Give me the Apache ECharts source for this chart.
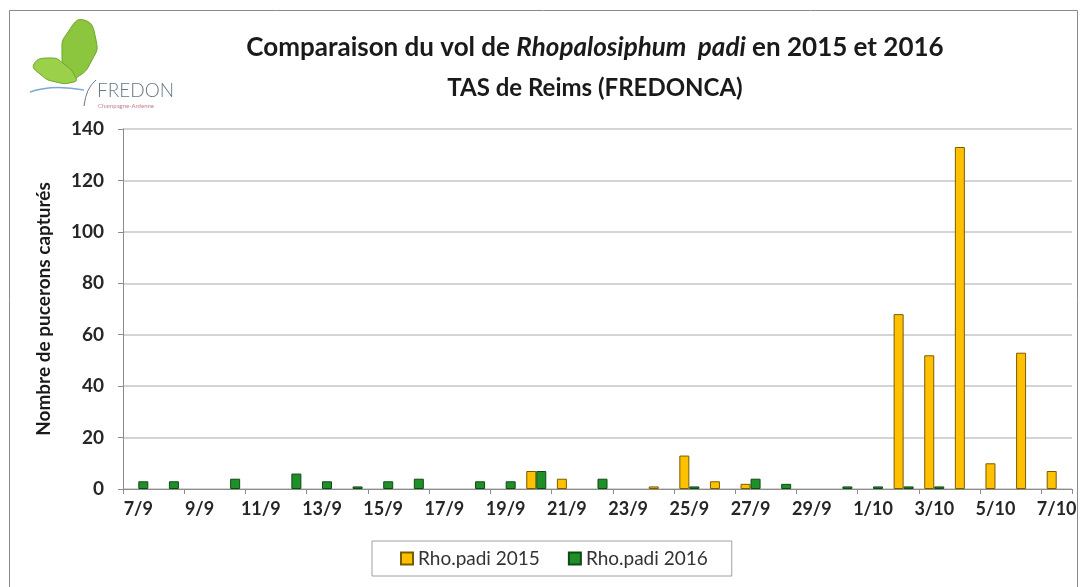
<!DOCTYPE html>
<html>
<head>
<meta charset="utf-8">
<script src="https://cdn.jsdelivr.net/npm/echarts@6/dist/echarts.min.js"></script>
<style>html,body{margin:0;padding:0;background:#fff}#c{width:1086px;height:587px}</style>
</head>
<body>
<div id="c"></div>
<script>
const categories = ['7/9','8/9','9/9','10/9','11/9','12/9','13/9','14/9','15/9','16/9','17/9','18/9','19/9','20/9','21/9','22/9','23/9','24/9','25/9','26/9','27/9','28/9','29/9','30/9','1/10','2/10','3/10','4/10','5/10','6/10','7/10'];
const rho2015 = [0,0,0,0,0,0,0,0,0,0,0,0,0,7,4,0,0,1,13,3,2,0,0,0,0,68,52,133,10,53,7];
const rho2016 = [3,3,0,4,0,6,3,1,3,4,0,3,3,7,0,4,0,0,1,0,4,2,0,1,1,1,1,0,0,0,0];
const yTicks = {min:0, max:140, interval:20};
const seriesNames = ['Rho.padi 2015','Rho.padi 2016'];

// zero counts are not drawn (as in the spreadsheet chart)
const hideZero = arr => arr.map(v => v === 0 ? '-' : v);

const chart = echarts.init(document.getElementById('c'), null, {renderer:'canvas'});
const FONT = 'Lato, "Open Sans", sans-serif';
chart.setOption({
  backgroundColor:'#fff',
  animation:false,
  title:{
    left:590, top:22, textAlign:'center',
    text:'{b|Comparaison du vol de }{i|Rhopalosiphum  padi}{b| en 2015 et 2016}\n{s|TAS de Reims (FREDONCA)}',
    textStyle:{
      rich:{
        b:{fontFamily:FONT,fontSize:26,fontWeight:'bold',color:'#1a1a1a',lineHeight:41},
        i:{fontFamily:FONT,fontSize:26,fontWeight:'bold',fontStyle:'italic',color:'#1a1a1a',lineHeight:41},
        s:{fontFamily:FONT,fontSize:24,fontWeight:'bold',color:'#1a1a1a',lineHeight:41}
      }
    }
  },
  grid:{left:123,right:14,top:129,bottom:98,containLabel:false},
  legend:{
    data:seriesNames,
    left:372, top:541,
    icon:'rect', itemWidth:12, itemHeight:12, itemGap:28,
    borderColor:'#a0a0a0', borderWidth:1, padding:[8,24,8,28],
    textStyle:{fontFamily:FONT,fontSize:19,color:'#333'}
  },
  xAxis:{
    type:'category', data:categories, boundaryGap:true,
    axisLine:{lineStyle:{color:'#8c8c8c',width:1}},
    axisTick:{show:true,interval:1,length:5,lineStyle:{color:'#8c8c8c'}},
    axisLabel:{interval:1,fontFamily:FONT,fontSize:18,fontWeight:'bold',color:'#262626',margin:11}
  },
  yAxis:{
    type:'value', min:yTicks.min, max:yTicks.max, interval:yTicks.interval,
    name:'Nombre de pucerons capturés', nameLocation:'middle', nameGap:70, nameRotate:90,
    nameTextStyle:{fontFamily:FONT,fontSize:19,fontWeight:'bold',color:'#1a1a1a'},
    axisLine:{show:true,lineStyle:{color:'#8c8c8c'}},
    axisTick:{show:true,length:5,lineStyle:{color:'#8c8c8c'}},
    axisLabel:{fontFamily:FONT,fontSize:19,fontWeight:'bold',color:'#262626',margin:19},
    splitLine:{lineStyle:{color:'#d4d4d4',width:2}}
  },
  series:[
    {name:seriesNames[0],type:'bar',data:hideZero(rho2015),barWidth:10,barGap:'0%',
     itemStyle:{color:'#FFC000',borderColor:'#7a5c00',borderWidth:1}},
    {name:seriesNames[1],type:'bar',data:hideZero(rho2016),barWidth:10,barGap:'0%',
     itemStyle:{color:'#1f8f2a',borderColor:'#0f4a15',borderWidth:1}}
  ],
  graphic:[
    {type:'rect',silent:true,z:-1,shape:{x:9.5,y:10.5,width:1068,height:590},style:{fill:'none',stroke:'#8a8a8a',lineWidth:1}},
    {type:'polygon',silent:true,shape:{smooth:0.6,points:[[68,76],[62,52],[68,32],[84,20],[96,40],[92,60],[76,78]]},style:{fill:'#8cc63f',stroke:'#6fa52c',lineWidth:1}},
    {type:'polygon',silent:true,shape:{smooth:0.6,points:[[74,82],[56,82],[40,74],[34,64],[50,58],[64,64],[76,78]]},style:{fill:'#9bd04a',stroke:'#6fa52c',lineWidth:1}},
    {type:'bezierCurve',silent:true,shape:{x1:30,y1:92,x2:84,y2:90,cpx1:52,cpy1:84},style:{fill:'none',stroke:'#7fa8d8',lineWidth:1.5}},
    {type:'bezierCurve',silent:true,shape:{x1:84,y1:106,x2:96,y2:80,cpx1:86,cpy1:88},style:{fill:'none',stroke:'#6a7a8a',lineWidth:1}},
    {type:'text',silent:true,left:97,top:81,style:{text:'FREDON',font:'300 19px Lato, sans-serif',fill:'#667788'}},
    {type:'text',silent:true,left:98,top:103,style:{text:'Champagne-Ardenne',font:'6px Lato, sans-serif',fill:'#c08090'}}
  ]
});
</script>
</body>
</html>
